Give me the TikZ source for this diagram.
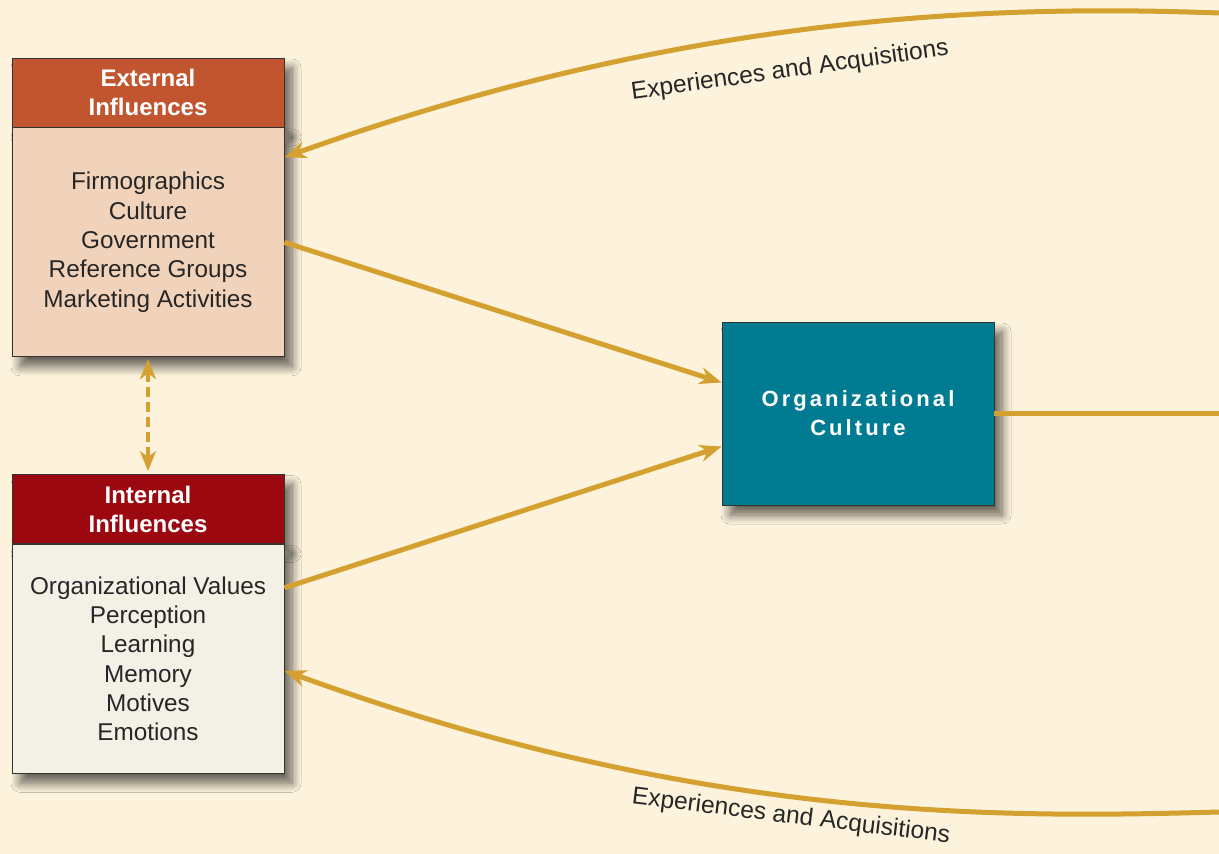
\documentclass[tikz,border=0pt]{standalone}
\usepackage{fontspec}
\setmainfont{Liberation Sans}
\newfontfamily\trackedfont[LetterSpace=14]{Liberation Sans}
\usepackage{xcolor}
\definecolor{pagecream}{RGB}{253,243,220}
\definecolor{flowgold}{RGB}{212,160,47}
\definecolor{exthead}{RGB}{192,85,48}
\definecolor{extbody}{RGB}{240,211,186}
\definecolor{inthead}{RGB}{155,8,15}
\definecolor{intbody}{RGB}{243,240,229}
\definecolor{orgteal}{RGB}{0,123,146}
\usetikzlibrary{arrows.meta, positioning, calc, shadows.blur}

\tikzset{
  boxshadow/.style={blur shadow={shadow xshift=8pt, shadow yshift=-10pt,
      shadow blur radius=9pt, shadow blur steps=12, shadow opacity=60}},
  headbox/.style={draw=black!80, line width=0.8pt, minimum width=272pt,
      minimum height=69pt, inner sep=0pt, align=center, text=white,
      font=\fontsize{24}{29}\selectfont\bfseries, boxshadow},
  listbox/.style={draw=black!80, line width=0.8pt, minimum width=272pt,
      minimum height=229pt, inner sep=0pt, align=center, text=black!85,
      font=\fontsize{24.3}{29.3}\selectfont, boxshadow},
  flow/.style={draw=flowgold, line width=5pt,
      -{Stealth[length=22pt, width=17pt, inset=7pt]}},
  caption/.style={font=\fontsize{24.5}{28}\selectfont, text=black!85}
}

\begin{document}
\begin{tikzpicture}[x=1pt, y=-1pt]
\useasboundingbox (0,0) rectangle (1219,854);
\fill[pagecream] (0,0) rectangle (1219,854);

% boxes
\node (exttop) [headbox, fill=exthead] at (148,92.5) {External\\Influences};
\node (ext) [listbox, fill=extbody, below=0pt of exttop]
  {Firmographics\\Culture\\Government\\Reference Groups\\Marketing Activities};
\node (inttop) [headbox, fill=inthead] at (148,509) {Internal\\Influences};
\node (int) [listbox, fill=intbody, below=0pt of inttop]
  {Organizational Values\\Perception\\Learning\\Memory\\Motives\\Emotions};
\node (org) [draw=black!80, line width=0.8pt, fill=orgteal, minimum width=272pt,
  minimum height=183pt, align=center, text=white, boxshadow,
  font=\fontsize{22}{29}\trackedfont\bfseries] at (858,413.5) {Organizational\\Culture};

% connectors
\coordinate (topin) at (1219,13);
\coordinate (botin) at (1219,812);
\coordinate (rightout) at (1219,412);
\draw[flow] (ext.east) -- ([yshift=31pt]org.west);
\draw[flow] ([yshift=71pt]int.east) -- ([yshift=-33pt]org.west);
\draw[draw=flowgold, line width=5pt] (org.east) -- (org.east -| rightout);
\draw[draw=flowgold, line width=4.5pt, dash pattern=on 10pt off 5pt,
  {Stealth[length=20pt, width=16pt, inset=6pt]}-{Stealth[length=20pt, width=16pt, inset=6pt]}]
  ([yshift=-2pt]ext.south) -- ([yshift=3pt]inttop.north);
\draw[flow] (topin) .. controls (1000,5) and (690,12) .. ([yshift=85pt]ext.east);
\draw[flow] (botin) .. controls (1000,818) and (700,822) .. ([yshift=-12pt]int.east);

\node (toplabel) [caption, rotate=8] at (790,71) {Experiences and Acquisitions};
\node (botlabel) [caption, rotate=-7] at (791,817) {Experiences and Acquisitions};
\end{tikzpicture}
\end{document}
